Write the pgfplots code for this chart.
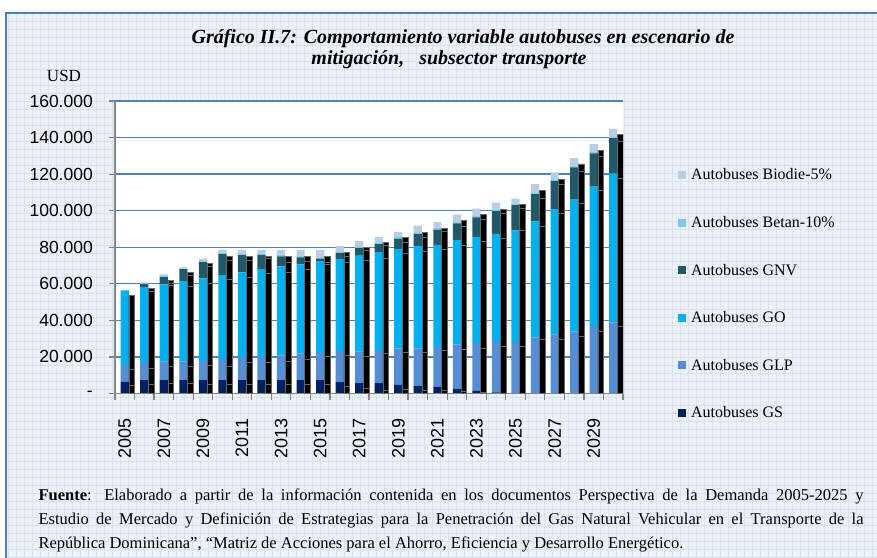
\documentclass[border=0pt]{standalone}
\usepackage{fontspec}
\setmainfont{Liberation Serif}
\setsansfont{Liberation Sans}
\usepackage{pgfplots}
\pgfplotsset{compat=1.18}
\usepackage{pgfplotstable}

\definecolor{cGS}{RGB}{0,32,96}
\definecolor{cGLP}{RGB}{85,142,213}
\definecolor{cGO}{RGB}{0,176,240}
\definecolor{cGNV}{RGB}{33,89,104}
\definecolor{cBetan}{RGB}{120,205,235}
\definecolor{cBiodie}{RGB}{185,205,229}
\definecolor{bgc}{RGB}{236,241,248}
\definecolor{bggrid}{RGB}{218,226,238}
\definecolor{framec}{RGB}{79,129,189}
\definecolor{gridc}{RGB}{79,129,189}
\definecolor{axisc}{RGB}{134,134,134}

% escenario de mitigacion (barras de color), USD
\pgfplotstableread{
year gs glp go gnv betan biodie
2005 6400 9200 40800 0 0 0
2006 7300 9400 41500 1700 0 900
2007 7300 10200 42200 4000 500 1000
2008 7300 10200 44000 6500 400 600
2009 7300 10500 45200 8800 800 1200
2010 7300 11600 45800 11500 800 1400
2011 7300 12700 46300 9400 700 2000
2012 7300 12700 48000 7700 700 2000
2013 7300 13500 48800 5400 700 2700
2014 7300 14600 48800 3700 800 3200
2015 7300 14900 50200 1400 600 4000
2016 6200 17100 50200 3300 700 3100
2017 5700 17300 52700 3800 700 3200
2018 5700 18200 53400 4400 900 3000
2019 4700 19800 54600 5500 900 2900
2020 4100 20400 56200 6600 600 3900
2021 3600 21800 55900 8300 900 3300
2022 2500 24200 57300 9000 700 4100
2023 1400 26200 58100 10600 700 4100
2024 600 28000 58700 12400 700 4000
2025 0 28300 60900 13800 900 2700
2026 0 30600 63500 14900 700 4800
2027 0 32400 68400 15400 900 3900
2028 0 33900 72200 17600 900 4100
2029 0 36800 76400 18200 700 4300
2030 0 38900 81500 19300 700 4300
}\mitig

% barras negras
\pgfplotstableread{
year k1 k2 k3 k4 k5
2005 4200 8800 40600 0 0
2006 5000 8600 42100 0 1800
2007 5500 9200 44300 1400 1500
2008 5500 9200 44100 5700 1600
2009 5100 10300 45000 9000 1900
2010 5100 10000 47400 10400 2200
2011 5100 11800 46800 9400 2000
2012 5000 12100 48500 8100 1300
2013 5100 12700 48500 5700 3000
2014 5100 13600 49400 4400 2500
2015 5100 15100 50700 1100 3000
2016 4000 16600 51400 3000 2200
2017 3000 17200 52400 5700 1800
2018 1800 19900 52500 6600 1900
2019 2300 20200 54000 6300 2700
2020 1900 20600 55300 7700 2800
2021 1600 22000 55100 9900 1900
2022 1000 23000 57300 10300 2900
2023 500 24200 58600 11900 2600
2024 0 25800 59300 13300 2200
2025 0 25800 63200 12500 1800
2026 0 29500 61900 15600 4000
2027 0 29500 68900 16100 2800
2028 0 31300 72600 17800 3900
2029 0 34100 76800 18700 3500
2030 0 36800 80800 20300 4000
}\base

\pgfplotsset{
  sq/.style={legend image code/.code={\fill[##1] (0pt,-4pt) rectangle (8pt,4pt);}},
}

\begin{document}
\begin{tikzpicture}
\useasboundingbox (0,0) rectangle (877pt,557pt);
\fill[white] (0,0) rectangle (877pt,557pt);
\fill[bgc] (6pt,0) rectangle (877pt,544pt);
\draw[bggrid, step=8pt, line width=0.3pt] (6pt,0) grid (877pt,544pt);
\draw[framec, line width=2pt] (6pt,-2pt) -- (6pt,544pt) -- (879pt,544pt);

\node[font=\fontsize{20}{22}\selectfont\bfseries\itshape] at (463pt,518pt)
  {Gráfico II.7: Comportamiento variable autobuses en escenario de};
\node[font=\fontsize{20}{22}\selectfont\bfseries\itshape] at (449pt,497pt)
  {mitigación,\ \ \ subsector transporte};
\node[font=\fontsize{17}{17}\selectfont] at (64pt,481pt) {USD};

\begin{axis}[
  at={(115pt,163.5pt)}, anchor=south west,
  scale only axis, width=508pt, height=292.5pt,
  ybar stacked, bar width=0.42,
  xmin=2004.5, xmax=2030.5, ymin=0, ymax=160000,
  scaled y ticks=false,
  axis background/.style={fill=white},
  axis x line*=bottom, axis y line*=left,
  axis line style={-, draw=axisc, line width=1.6pt},
  ymajorgrids, major grid style={gridc, line width=1.3pt},
  ytick={0,20000,...,160000},
  yticklabels={-,20.000,40.000,60.000,80.000,100.000,120.000,140.000,160.000},
  xtick={2005,2007,...,2029},
  xticklabels={2005,2007,2009,2011,2013,2015,2017,2019,2021,2023,2025,2027,2029},
  xtick style={draw=none},
  ytick style={axisc, line width=1.2pt},
  tick align=outside, major tick length=6pt,
  /pgf/number format/assume math mode=true,
  y tick label style={font=\sffamily\fontsize{17.5}{17.5}\selectfont, inner sep=0pt, xshift=-16pt},
  x tick label style={font=\sffamily\fontsize{18}{18}\selectfont, rotate=90, anchor=east, inner sep=0pt, xshift=-19pt},
  reverse legend,
  legend cell align=left,
  legend style={at={(axis description cs:1.108,0.776)}, anchor=north west,
    draw=none, fill=none, inner sep=0pt, row sep=31pt,
    font=\fontsize{16}{16}\selectfont,
    nodes={inner xsep=5pt}},
]
\addplot[fill=cGS, draw=none, sq] table[x=year, y=gs] {\mitig};
\addplot[fill=cGLP, draw=none, sq] table[x=year, y=glp] {\mitig};
\addplot[fill=cGO, draw=none, sq] table[x=year, y=go] {\mitig};
\addplot[fill=cGNV, draw=none, sq] table[x=year, y=gnv] {\mitig};
\addplot[fill=cBetan, draw=none, sq] table[x=year, y=betan] {\mitig};
\addplot[fill=cBiodie, draw=none, sq] table[x=year, y=biodie] {\mitig};
\legend{Autobuses GS, Autobuses GLP, Autobuses GO, Autobuses GNV, Autobuses Betan-10\%, Autobuses Biodie-5\%}
\end{axis}

\begin{axis}[
  at={(115pt,163.5pt)}, anchor=south west,
  scale only axis, width=508pt, height=292.5pt,
  ybar stacked, bar width=0.29, bar shift=0.36,
  xmin=2004.5, xmax=2030.5, ymin=0, ymax=160000,
  axis x line*=bottom, axis y line=none,
  axis line style={-, draw=axisc, line width=1.6pt},
  ytick=\empty,
  xtick={2004.5,2005.5,...,2030.5}, xticklabels={},
  xtick style={axisc, line width=1.2pt},
  tick align=outside, major tick length=6pt,
]
\addplot[fill=black, draw=black!60, line width=0.7pt] table[x=year, y=k1] {\base};
\addplot[fill=black, draw=black!60, line width=0.7pt] table[x=year, y=k2] {\base};
\addplot[fill=black, draw=black!60, line width=0.7pt] table[x=year, y=k3] {\base};
\addplot[fill=black, draw=black!60, line width=0.7pt] table[x=year, y=k4] {\base};
\addplot[fill=black, draw=black!60, line width=0.7pt] table[x=year, y=k5] {\base};
\end{axis}

\node[anchor=base west, font=\fontsize{16.5}{24}\selectfont] at (35pt,57pt)
  {\makebox[825pt][s]{\textbf{Fuente}: Elaborado a partir de la información contenida en los documentos Perspectiva de la Demanda 2005-2025 y}};
\node[anchor=base west, font=\fontsize{16.5}{24}\selectfont] at (35pt,33pt)
  {\makebox[825pt][s]{Estudio de Mercado y Definición de Estrategias para la Penetración del Gas Natural Vehicular en el Transporte de la}};
\node[anchor=base west, font=\fontsize{16.5}{24}\selectfont] at (35pt,9pt)
  {República Dominicana”, “Matriz de Acciones para el Ahorro, Eficiencia y Desarrollo Energético.};
\end{tikzpicture}
\end{document}
